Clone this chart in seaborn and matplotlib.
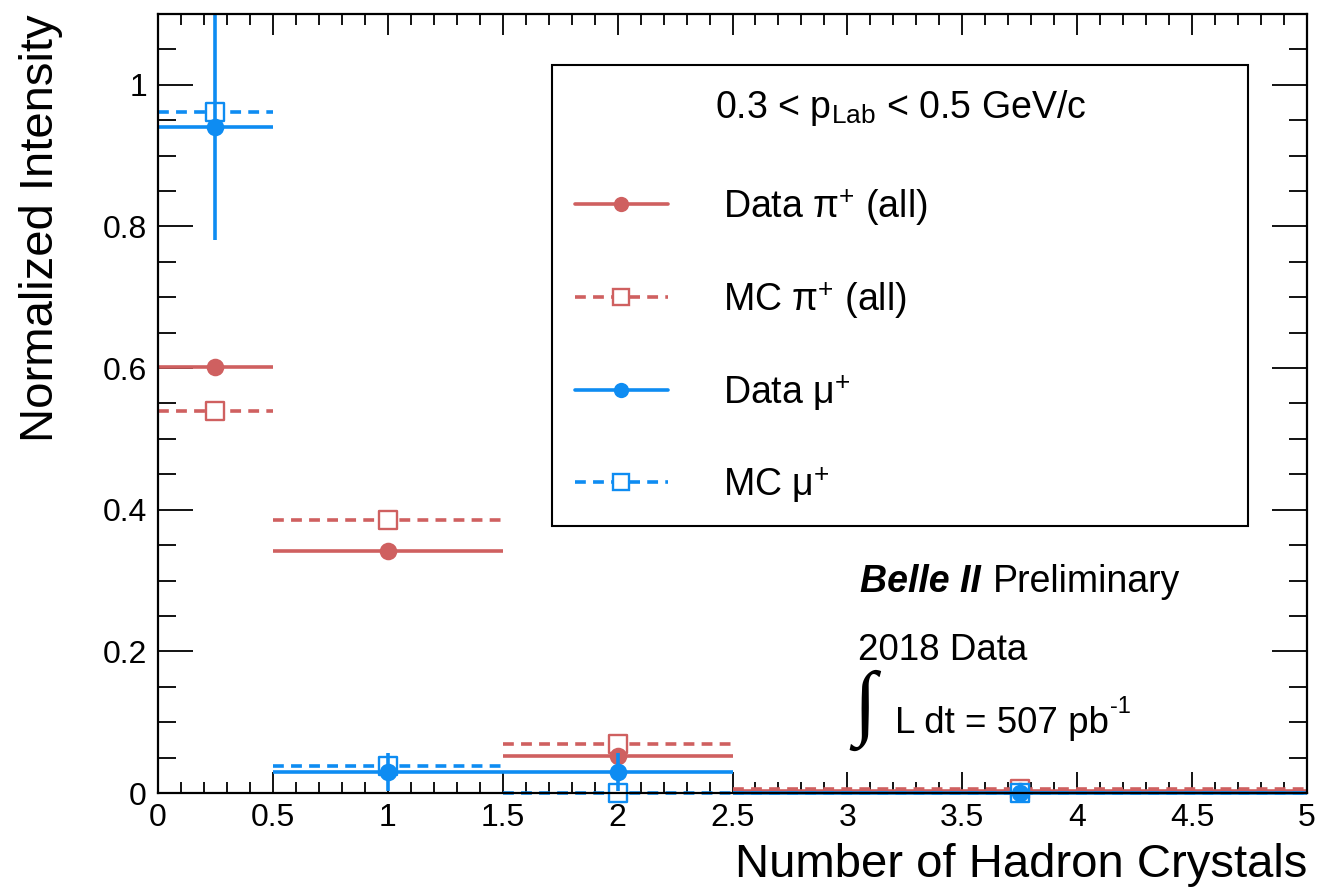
import numpy as np
import pandas as pd
import matplotlib
matplotlib.use("Agg")
import matplotlib.pyplot as plt
from matplotlib.lines import Line2D
from matplotlib.ticker import MultipleLocator, FuncFormatter
import seaborn as sns

# ---------------- data ----------------
bin_edges = [0.0, 0.5, 1.5, 2.5, 5.0]
bin_centers = [0.25, 1.0, 2.0, 3.75]
data_pi = [0.601, 0.342, 0.052, 0.003]
data_pi_err = [0.004, 0.004, 0.003, 0.001]
mc_pi = [0.540, 0.386, 0.069, 0.005]
data_mu = [0.941, 0.030, 0.030, 0.000]
data_mu_err = [0.160, 0.027, 0.027, 0.001]
mc_mu = [0.962, 0.038, 0.000, 0.000]

labels = ["Data \u03c0$^{+}$ (all)", "MC \u03c0$^{+}$ (all)", "Data \u03bc$^{+}$", "MC \u03bc$^{+}$"]
x_label = "Number of Hadron Crystals"
y_label = "Normalized Intensity"
legend_title = r"0.3 < p$_{\mathregular{Lab}}$ < 0.5 GeV/c"

RED = "#cf6060"
BLUE = "#0e8cf2"

sns.set_style("ticks")
plt.rcParams["font.family"] = ["Liberation Sans", "DejaVu Sans"]
plt.rcParams["mathtext.fontset"] = "custom"
plt.rcParams["mathtext.rm"] = "Liberation Sans"
plt.rcParams["mathtext.it"] = "Liberation Serif:italic"
plt.rcParams["mathtext.bf"] = "Liberation Sans:bold"
for k in ["text.color", "axes.labelcolor", "xtick.color", "ytick.color", "axes.edgecolor"]:
    plt.rcParams[k] = "black"

fig = plt.figure(figsize=(13.36, 8.88), dpi=100)
W, H = 1336, 888
ax = fig.add_axes([158 / W, 1 - 793 / H, (1307 - 158) / W, (793 - 14) / H])

centers = np.array(bin_centers)
edges = np.array(bin_edges)
xerr = np.vstack([centers - edges[:-1], edges[1:] - centers])

df = pd.DataFrame({"x": bin_centers, "data_pi": data_pi, "mc_pi": mc_pi,
                   "data_mu": data_mu, "mc_mu": mc_mu})

LW = 2.6
dash = (0, (3.0, 2.0))
MS = 160

# MC pi
ax.errorbar(centers, mc_pi, xerr=xerr, fmt="none", ecolor=RED, elinewidth=LW,
            clip_on=False, zorder=2)
for c in ax.containers[-1].lines[2]:
    c.set_linestyle(dash)
sns.scatterplot(data=df, x="x", y="mc_pi", ax=ax, marker="s", s=MS,
                facecolor="white", edgecolor=RED, linewidth=1.7, zorder=3, clip_on=False)
# Data pi
ax.errorbar(centers, data_pi, xerr=xerr, yerr=data_pi_err, fmt="none", ecolor=RED,
            elinewidth=LW, clip_on=False, zorder=4)
sns.scatterplot(data=df, x="x", y="data_pi", ax=ax, marker="o", s=MS,
                color=RED, edgecolor=RED, linewidth=0, zorder=5, clip_on=False)
# MC mu
ax.errorbar(centers, mc_mu, xerr=xerr, fmt="none", ecolor=BLUE, elinewidth=LW,
            clip_on=False, zorder=6)
for c in ax.containers[-1].lines[2]:
    c.set_linestyle(dash)
sns.scatterplot(data=df, x="x", y="mc_mu", ax=ax, marker="s", s=MS,
                facecolor="white", edgecolor=BLUE, linewidth=1.7, zorder=7, clip_on=False)
# Data mu
ax.errorbar(centers, data_mu, xerr=xerr, yerr=data_mu_err, fmt="none", ecolor=BLUE,
            elinewidth=LW, clip_on=False, zorder=8)
sns.scatterplot(data=df, x="x", y="data_mu", ax=ax, marker="o", s=MS,
                color=BLUE, edgecolor=BLUE, linewidth=0, zorder=9, clip_on=False)

ax.set_xlim(0, 5)
ax.set_ylim(0, 1.1)

fmt = FuncFormatter(lambda v, p: ("%g" % round(v, 3)))
ax.xaxis.set_major_locator(MultipleLocator(0.5))
ax.xaxis.set_minor_locator(MultipleLocator(0.1))
ax.yaxis.set_major_locator(MultipleLocator(0.2))
ax.yaxis.set_minor_locator(MultipleLocator(0.05))
ax.xaxis.set_major_formatter(fmt)
ax.yaxis.set_major_formatter(fmt)
ax.tick_params(which="both", direction="in", top=True, right=True, width=1.3, colors="black")
ax.tick_params(axis="x", which="major", length=15, labelsize=23, pad=7)
ax.tick_params(axis="x", which="minor", length=8)
ax.tick_params(axis="y", which="major", length=25, labelsize=23, pad=8)
ax.tick_params(axis="y", which="minor", length=13)
for s in ax.spines.values():
    s.set_linewidth(1.6)
    s.set_color("black")
    s.set_visible(True)
    s.set_zorder(20)

ax.set_xlabel(x_label, fontsize=34, loc="right")
ax.xaxis.set_label_coords(1.0, -0.064)
ax.set_ylabel(y_label, fontsize=34, loc="top")
ax.yaxis.set_label_coords(-0.083, 1.0)

handles = [
    Line2D([], [], color=RED, lw=LW, marker="o", markersize=11, markerfacecolor=RED, markeredgewidth=0),
    Line2D([], [], color=RED, lw=LW, linestyle=dash, marker="s", markersize=11,
           markerfacecolor="white", markeredgecolor=RED, markeredgewidth=1.7),
    Line2D([], [], color=BLUE, lw=LW, marker="o", markersize=11, markerfacecolor=BLUE, markeredgewidth=0),
    Line2D([], [], color=BLUE, lw=LW, linestyle=dash, marker="s", markersize=11,
           markerfacecolor="white", markeredgecolor=BLUE, markeredgewidth=1.7),
]
FS = 27
leg = ax.legend(handles, labels, title=legend_title, loc="upper left",
                bbox_to_anchor=(0.343, 0.9345, 0.606, 0.0), mode="expand",
                fontsize=FS, title_fontsize=FS, frameon=True, fancybox=False,
                edgecolor="black", framealpha=1, borderpad=0.6, labelspacing=1.41,
                handlelength=2.5, handletextpad=1.47, numpoints=1, borderaxespad=0)
leg.get_frame().set_linewidth(1.5)
leg._legend_box.sep = 43

def fx(px):
    return px / W

def fy(py):
    return 1 - py / H

fig.text(fx(860), fy(592), "Belle II", fontsize=27, fontweight="bold", fontstyle="italic", va="baseline")
fig.text(fx(993), fy(592), "Preliminary", fontsize=27, va="baseline")
fig.text(fx(858), fy(660), "2018 Data", fontsize=26.5, va="baseline")
fig.text(fx(853), fy(710), "\u222b", fontsize=60, family="Liberation Serif", va="center")
t = fig.text(fx(895), fy(733), "L dt = 507 pb", fontsize=26.5, va="baseline")
fig.canvas.draw()
bb = t.get_window_extent()
fig.text(bb.x1 / W + 1 / W, fy(733 - 20), "-1", fontsize=17, va="baseline")

fig.savefig("out.png", dpi=100)
